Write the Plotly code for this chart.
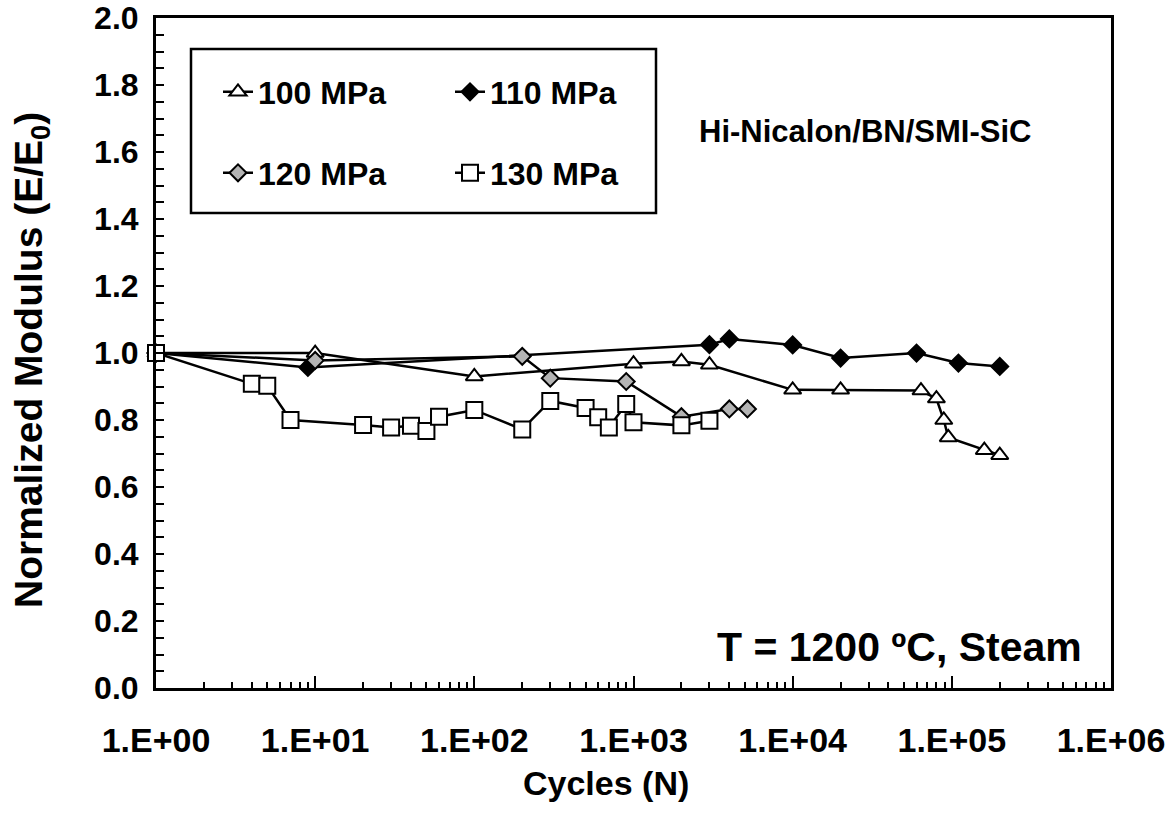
import plotly.graph_objects as go

# Normalized modulus vs. cycles, Hi-Nicalon/BN/SMI-SiC at 1200 C in steam
cycles_100 = [1, 10, 100, 1000, 2000, 3000, 10000, 20000, 64000, 80000, 89000, 95000, 160000, 200000]
mod_100 = [1.0, 1.0, 0.93, 0.968, 0.975, 0.965, 0.89, 0.89, 0.888, 0.864, 0.80, 0.748, 0.71, 0.695]

cycles_110 = [1, 9, 3000, 4000, 10000, 20000, 60000, 110000, 200000]
mod_110 = [1.0, 0.957, 1.025, 1.042, 1.024, 0.985, 1.0, 0.97, 0.96]

cycles_120 = [1, 10, 200, 300, 900, 2000, 4000, 5200]
mod_120 = [1.0, 0.978, 0.99, 0.925, 0.915, 0.81, 0.833, 0.833]

cycles_130 = [1, 4, 5, 7, 20, 30, 40, 50, 60, 100, 200, 300, 500, 600, 700, 900, 1000, 2000, 3000]
mod_130 = [1.0, 0.908, 0.902, 0.80, 0.785, 0.778, 0.783, 0.767, 0.81, 0.83, 0.772, 0.857, 0.836, 0.808, 0.778, 0.848, 0.793, 0.784, 0.798]

x_tickvals = [1, 10, 100, 1000, 10000, 100000, 1000000]
x_ticktext = ["1.E+00", "1.E+01", "1.E+02", "1.E+03", "1.E+04", "1.E+05", "1.E+06"]
y_tickvals = [0.0, 0.2, 0.4, 0.6, 0.8, 1.0, 1.2, 1.4, 1.6, 1.8, 2.0]

FONT = "Liberation Sans, Arial, sans-serif"
GRAY = "#b4b4b4"

series = [
    ("100 MPa", cycles_100, mod_100, "triangle-up", "white", 15, "legend"),
    ("110 MPa", cycles_110, mod_110, "diamond", "black", 13, "legend"),
    ("120 MPa", cycles_120, mod_120, "diamond", GRAY, 13, "legend2"),
    ("130 MPa", cycles_130, mod_130, "square", "white", 16, "legend2"),
]

fig = go.Figure()
for name, xs, ys, sym, fill, size, leg in series:
    fig.add_trace(go.Scatter(
        x=xs, y=ys, name=name, mode="lines+markers",
        line=dict(color="black", width=2.5),
        marker=dict(symbol=sym, size=size, color=fill,
                    line=dict(color="black", width=2)),
        cliponaxis=False, legend=leg,
    ))

W, H = 1175, 820
L, R, T, B = 156, 64, 18, 132
pw, ph = W - L - R, H - T - B


def px_x(p):
    return (p - L) / pw


def px_y(p):
    return (H - B - p) / ph


# minor log ticks at 2..9 within every decade
minor_x = [m * 10 ** d for d in range(6) for m in range(2, 10)]

legend_common = dict(
    orientation="h", xanchor="left", yanchor="middle",
    bgcolor="rgba(0,0,0,0)", borderwidth=0,
    font=dict(family=FONT, size=32, color="black", weight="bold"),
    entrywidth=187, entrywidthmode="pixels", itemwidth=30,
)

fig.update_layout(
    width=W, height=H,
    margin=dict(l=L, r=R, t=T, b=B, autoexpand=False),
    paper_bgcolor="white", plot_bgcolor="white",
    font=dict(family=FONT, color="black", weight="bold"),
    legend=dict(x=px_x(218), y=px_y(92), **legend_common),
    legend2=dict(x=px_x(218), y=px_y(173), **legend_common),
    shapes=[dict(type="rect", xref="paper", yref="paper",
                 x0=px_x(191), x1=px_x(656), y0=px_y(213), y1=px_y(49),
                 line=dict(color="black", width=2.5), fillcolor="rgba(0,0,0,0)")],
    annotations=[
        dict(text="Hi-Nicalon/BN/SMI-SiC", xref="paper", yref="paper",
             x=px_x(697), y=px_y(131), xanchor="left", yanchor="middle",
             showarrow=False, font=dict(family=FONT, size=31, weight="bold")),
        dict(text="T = 1200 ºC, Steam", xref="paper", yref="paper",
             x=px_x(1084), y=px_y(647), xanchor="right", yanchor="middle",
             showarrow=False, font=dict(family=FONT, size=41, weight="bold")),
        dict(text="Cycles (N)", xref="paper", yref="paper",
             x=px_x(606), y=px_y(783), xanchor="center", yanchor="middle",
             showarrow=False, font=dict(family=FONT, size=34, weight="bold")),
        dict(text="Normalized Modulus (E/E<sub>0</sub>)", xref="paper", yref="paper",
             x=px_x(31), y=px_y(360), xanchor="center", yanchor="middle",
             textangle=-90, showarrow=False,
             font=dict(family=FONT, size=39, weight="bold")),
    ],
)

fig.update_xaxes(
    type="log", range=[0, 6], automargin=False,
    tickmode="array", tickvals=x_tickvals, ticktext=x_ticktext,
    ticks="inside", ticklen=12, tickwidth=2, tickcolor="black",
    minor=dict(ticks="inside", ticklen=6, tickwidth=2, tickcolor="black",
               tickmode="array", tickvals=minor_x),
    showline=True, linewidth=3, linecolor="black", mirror=True,
    showgrid=False, zeroline=False,
    tickfont=dict(family=FONT, size=34, weight="bold"),
    ticklabelstandoff=20, ticklabeloverflow="allow",
)

fig.update_yaxes(
    range=[0, 2.0001], automargin=False,
    tickmode="array", tickvals=y_tickvals, tickformat=".1f",
    ticks="inside", ticklen=8, tickwidth=2, tickcolor="black",
    minor=dict(ticks="inside", ticklen=8, tickwidth=2, tickcolor="black", dtick=0.05),
    showline=True, linewidth=3, linecolor="black", mirror=True,
    showgrid=False, zeroline=False,
    tickfont=dict(family=FONT, size=32, weight="bold"),
    ticklabelstandoff=8, ticklabeloverflow="allow",
)

fig.write_html("out.html")
